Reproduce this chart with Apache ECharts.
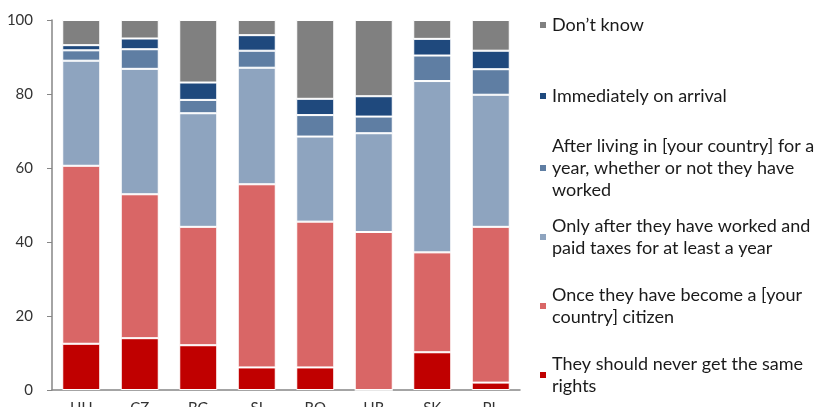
<!DOCTYPE html>
<html>
<head>
<meta charset="utf-8">
<script src="https://cdn.jsdelivr.net/npm/echarts@6/dist/echarts.min.js"></script>
<style>html,body{margin:0;padding:0;background:#fff;}#c{width:819px;height:407px;}</style>
</head>
<body>
<div id="c"></div>
<script>
const categories = ['HU', 'CZ', 'BG', 'SI', 'RO', 'HR', 'SK', 'PL'];
const yTicks = [0, 20, 40, 60, 80, 100];

const neverSame   = [12.5, 14.0, 12.1, 6.1, 6.1, 0.0, 10.2, 2.0];
const becomeCitizen = [48.1, 38.9, 32.0, 49.5, 39.4, 42.7, 27.0, 42.1];
const workedTaxes = [28.4, 33.9, 30.7, 31.5, 23.0, 26.7, 46.3, 35.7];
const afterLiving = [2.8, 5.3, 3.6, 4.6, 5.8, 4.5, 6.9, 6.9];
const immediately = [1.4, 2.9, 4.7, 4.2, 4.4, 5.5, 4.5, 5.0];
const dontKnow    = [6.8, 5.0, 16.9, 4.1, 21.3, 20.6, 5.1, 8.3];

const seriesNames = [
  'They should never get the same rights',
  'Once they have become a [your country] citizen',
  'Only after they have worked and paid taxes for at least a year',
  'After living in [your country] for a year, whether or not they have worked',
  'Immediately on arrival',
  'Don\u2019t know'
];
const legendLines = {
  'Don\u2019t know': ['Don\u2019t know'],
  'Immediately on arrival': ['Immediately on arrival'],
  'After living in [your country] for a year, whether or not they have worked':
    ['After living in [your country] for a', 'year, whether or not they have', 'worked'],
  'Only after they have worked and paid taxes for at least a year':
    ['Only after they have worked and', 'paid taxes for at least a year'],
  'Once they have become a [your country] citizen':
    ['Once they have become a [your', 'country] citizen'],
  'They should never get the same rights':
    ['They should never get the same', 'rights']
};
const seriesValues = [neverSame, becomeCitizen, workedTaxes, afterLiving, immediately, dontKnow];
const colors = ['#C00000', '#D96666', '#8EA4BF', '#5F7EA3', '#1F497D', '#808080'];
const legendFirstLineY = [375, 306, 237, 168, 96, 25];

const LH = 22;
const FONT = 'Lato';
const FS = 18;

const legends = seriesNames.map((name, i) => {
  const n = legendLines[name].length;
  return {
    orient: 'vertical',
    left: 538,
    top: legendFirstLineY[i] - (2 * n - 1) * LH / 2,
    padding: 0,
    itemWidth: 8,
    itemHeight: 8,
    itemGap: 0,
    icon: 'rect',
    selectedMode: false,
    data: [name],
    formatter: (nm) => legendLines[nm].join('\n'),
    textStyle: {
      fontFamily: FONT,
      fontSize: FS,
      color: '#1a1a1a',
      lineHeight: LH,
      padding: [(n - 1) * LH, 0, 0, 0]
    }
  };
});

const chart = echarts.init(document.getElementById('c'), null, {renderer: 'canvas'});
chart.setOption({
  animation: false,
  color: colors,
  grid: {left: 52, right: 299, top: 20, bottom: 17, containLabel: false, outerBoundsMode: 'none'},
  legend: legends,
  xAxis: {
    type: 'category',
    data: categories,
    axisLine: {lineStyle: {color: '#868686', width: 1.5}},
    axisTick: {show: false},
    axisLabel: {fontFamily: FONT, fontSize: 15, color: '#333', margin: 11}
  },
  yAxis: {
    type: 'value',
    min: 0, max: 100, interval: 20,
    axisLine: {show: true, lineStyle: {color: '#868686', width: 1.5}},
    axisTick: {show: true, length: 5, lineStyle: {color: '#868686'}},
    splitLine: {show: false},
    axisLabel: {
      fontFamily: FONT, fontSize: 15, color: '#333', margin: 19,
      formatter: (v) => yTicks.includes(v) ? String(v) : ''
    }
  },
  series: seriesNames.map((name, i) => ({
    name: name,
    type: 'bar',
    stack: 'total',
    barWidth: '65%',
    data: seriesValues[i],
    itemStyle: {color: colors[i], borderColor: '#ffffff', borderWidth: 1}
  }))
});
</script>
</body>
</html>
